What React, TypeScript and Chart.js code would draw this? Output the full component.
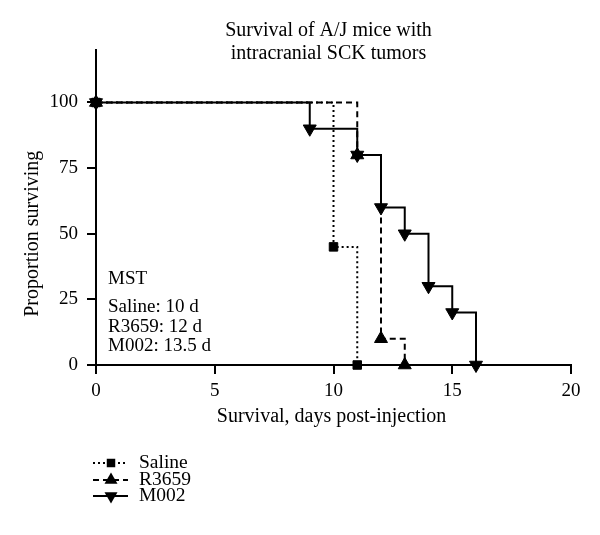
import React, { useEffect, useRef } from 'react';
import { Chart, registerables } from 'chart.js';

Chart.register(...registerables);

// ---- Data ----
const titleLines = ['Survival of A/J mice with', 'intracranial SCK tumors'];
const xTitle = 'Survival, days post-injection';
const yTitle = 'Proportion surviving';
const xTicks = [0, 5, 10, 15, 20];
const yTicks = [0, 25, 50, 75, 100];
const mstLines = ['MST', 'Saline: 10 d', 'R3659: 12 d', 'M002: 13.5 d'];

const seriesNames = ['Saline', 'R3659', 'M002'];
const salineDays = [0, 10, 11];
const salineSurv = [100, 45, 0];
const r3659Days = [0, 11, 12, 13];
const r3659Surv = [100, 80, 10, 0];
const m002Days = [0, 9, 11, 12, 13, 14, 15, 16];
const m002Surv = [100, 90, 80, 60, 50, 30, 20, 0];

const FONT = '"Liberation Serif", "DejaVu Serif", serif';

function pts(xs: number[], ys: number[]) {
  return xs.map((x, i) => ({ x, y: ys[i] }));
}

function drawMarker(ctx: CanvasRenderingContext2D, style: string, rot: number, x: number, y: number, r: number) {
  ctx.beginPath();
  if (style === 'rect') {
    const s = r * Math.SQRT1_2;
    ctx.rect(x - s, y - s, 2 * s, 2 * s);
  } else {
    const d = rot === 180 ? -1 : 1;
    const h = r * Math.sin(Math.PI / 3);
    ctx.moveTo(x, y - d * r);
    ctx.lineTo(x + h, y + d * r * 0.5);
    ctx.lineTo(x - h, y + d * r * 0.5);
    ctx.closePath();
  }
  ctx.fill();
}

const textPlugin = {
  id: 'textPlugin',
  afterDraw(chart: any) {
    const ctx: CanvasRenderingContext2D = chart.ctx;
    const xs = chart.scales.x;
    const ys = chart.scales.y;
    ctx.save();
    ctx.fillStyle = '#000';
    ctx.textBaseline = 'middle';

    // title
    ctx.font = `20px ${FONT}`;
    ctx.textAlign = 'center';
    const tx = (chart.chartArea.left + chart.chartArea.right) / 2 - 5;
    titleLines.forEach((t, i) => ctx.fillText(t, tx, 31 + i * 23));

    // x title
    ctx.fillText(xTitle, (xs.left + xs.right) / 2 - 2, 417);

    // y title, centred on 0..100
    const yc = (ys.getPixelForValue(0) + ys.getPixelForValue(100)) / 2;
    ctx.save();
    ctx.translate(33, yc);
    ctx.rotate(-Math.PI / 2);
    ctx.fillText(yTitle, 0, 0);
    ctx.restore();

    // MST annotation
    ctx.textAlign = 'left';
    ctx.font = `19px ${FONT}`;
    const ax = chart.chartArea.left + 12;
    const ay = [279, 307, 327, 346];
    mstLines.forEach((t, i) => ctx.fillText(t, ax, ay[i]));

    // legend
    ctx.font = `19.5px ${FONT}`;
    const rows = [463, 480, 496];
    chart.data.datasets.forEach((ds: any, i: number) => {
      const y = rows[i];
      ctx.save();
      ctx.strokeStyle = '#000';
      ctx.lineWidth = ds.borderWidth;
      ctx.setLineDash(ds.borderDash || []);
      ctx.beginPath();
      ctx.moveTo(93, y);
      ctx.lineTo(128, y);
      ctx.stroke();
      ctx.setLineDash([]);
      ctx.fillStyle = '#000';
      drawMarker(ctx, ds.pointStyle, ds.pointRotation || 0, 111, y, ds.pointRadius);
      ctx.restore();
      ctx.fillText(ds.label, 139, y);
    });
    ctx.restore();
  },
};

export default function App() {
  const ref = useRef<HTMLCanvasElement>(null);
  useEffect(() => {
    if (!ref.current) return;
    const common = {
      borderColor: '#000',
      backgroundColor: '#000',
      pointBackgroundColor: '#000',
      pointBorderColor: '#000',
      pointBorderWidth: 1,
      borderWidth: 2,
      stepped: 'before' as const,
      fill: false,
      clip: false as any,
      tension: 0,
    };
    const chart = new Chart(ref.current, {
      type: 'line',
      data: {
        datasets: [
          {
            ...common,
            label: seriesNames[0],
            data: pts(salineDays, salineSurv),
            borderDash: [2, 3],
            pointStyle: 'rect',
            pointRadius: 6,
            order: 2,
          },
          {
            ...common,
            label: seriesNames[1],
            data: pts(r3659Days, r3659Surv),
            borderDash: [6, 4],
            pointStyle: 'triangle',
            pointRadius: 7.5,
            order: 1,
          },
          {
            ...common,
            label: seriesNames[2],
            data: pts(m002Days, m002Surv),
            borderDash: [],
            pointStyle: 'triangle',
            pointRotation: 180,
            pointRadius: 7.5,
            order: 0,
          },
        ] as any,
      },
      options: {
        responsive: false,
        animation: false,
        events: [],
        layout: { padding: { left: 36, right: 29, top: 50, bottom: 110 } },
        plugins: { legend: { display: false }, title: { display: false }, tooltip: { enabled: false } },
        scales: {
          x: {
            type: 'linear',
            min: 0,
            max: 20,
            afterBuildTicks: (s: any) => {
              s.ticks = xTicks.map((v) => ({ value: v }));
            },
            afterFit: (s: any) => {
              s.height = 60;
            },
            grid: { display: true, drawOnChartArea: false, drawTicks: true, tickLength: 9, color: '#000', lineWidth: 2 },
            border: { display: true, color: '#000', width: 2 },
            ticks: { color: '#000', font: { family: FONT, size: 19 }, padding: 6, maxRotation: 0 },
          },
          y: {
            type: 'linear',
            min: 0,
            max: 120,
            afterBuildTicks: (s: any) => {
              s.ticks = yTicks.map((v) => ({ value: v }));
            },
            afterFit: (s: any) => {
              s.width = 60;
            },
            grid: { display: true, drawOnChartArea: false, drawTicks: true, tickLength: 9, color: '#000', lineWidth: 2 },
            border: { display: true, color: '#000', width: 2 },
            ticks: { color: '#000', font: { family: FONT, size: 19 }, padding: 9 },
          },
        },
      } as any,
      plugins: [textPlugin],
    });
    return () => chart.destroy();
  }, []);
  return (
    <div style={{ position: 'fixed', left: 0, top: 0, width: 600, height: 535, background: '#fff' }}>
      <canvas ref={ref} width={600} height={535} />
    </div>
  );
}
